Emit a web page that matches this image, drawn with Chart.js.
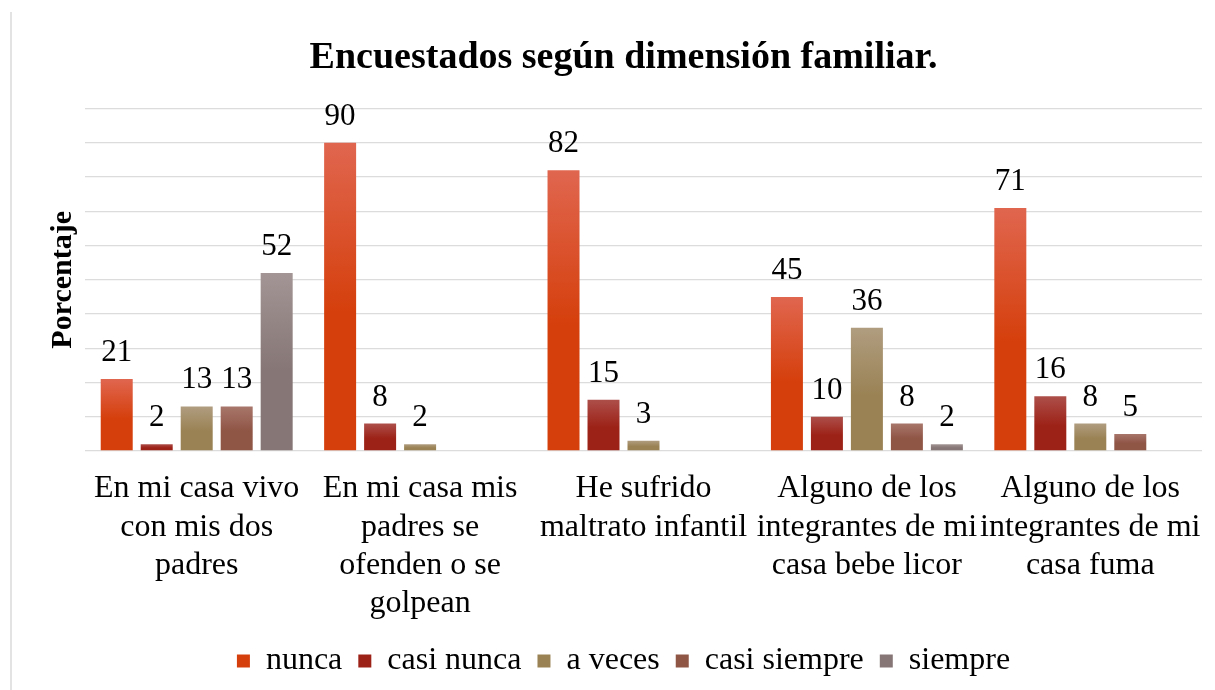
<!DOCTYPE html>
<html lang="es">
<head>
<meta charset="utf-8">
<title>Encuestados según dimensión familiar</title>
<script src="https://cdn.jsdelivr.net/npm/chart.js@4.4.1/dist/chart.umd.min.js"></script>
<style>
    html, body { margin: 0; padding: 0; background: #fff; }
    #contenedor { width: 1215px; height: 690px; position: relative; }
</style>
</head>
<body>
<div id="contenedor">
    <canvas id="graficaFamiliar"></canvas>
</div>
<script>
// Datos (porcentajes)
const categorias = [
    ['En mi casa vivo', 'con mis dos', 'padres'],
    ['En mi casa mis', 'padres se', 'ofenden o se', 'golpean'],
    ['He sufrido', 'maltrato infantil'],
    ['Alguno de los', 'integrantes de mi', 'casa bebe licor'],
    ['Alguno de los', 'integrantes de mi', 'casa fuma']
];
const nunca = [21, 90, 82, 45, 71];
const casiNunca = [2, 8, 15, 10, 16];
const aVeces = [13, 2, 3, 36, 8];
const casiSiempre = [13, null, null, 8, 5];
const siempre = [52, null, null, 2, null];

const fuente = '"Liberation Serif", "Times New Roman", serif';

// Degradado vertical por barra (claro arriba, oscuro abajo)
function degradado(claro, oscuro) {
    return function(context) {
        const chart = context.chart;
        const area = chart.chartArea;
        if (!area || context.type !== 'data' || context.raw == null) return oscuro;
        const y = chart.scales.y;
        const arriba = y.getPixelForValue(context.raw);
        const abajo = y.getPixelForValue(0);
        if (!isFinite(arriba) || abajo - arriba < 1) return oscuro;
        const g = chart.ctx.createLinearGradient(0, arriba, 0, abajo);
        g.addColorStop(0, claro);
        g.addColorStop(0.55, oscuro);
        g.addColorStop(1, oscuro);
        return g;
    };
}

// Etiquetas de valor encima de cada barra
const etiquetasValor = {
    id: 'etiquetasValor',
    afterDatasetsDraw(chart) {
        const ctx = chart.ctx;
        ctx.save();
        ctx.font = '31px ' + fuente;
        ctx.fillStyle = '#000';
        ctx.textAlign = 'center';
        ctx.textBaseline = 'alphabetic';
        chart.data.datasets.forEach(function(ds, i) {
            const meta = chart.getDatasetMeta(i);
            meta.data.forEach(function(barra, j) {
                const v = ds.data[j];
                if (v == null) return;
                ctx.fillText(String(v), barra.x, barra.y - 18);
            });
        });
        ctx.restore();
    }
};

// Línea gris del marco a la izquierda
const marco = {
    id: 'marco',
    beforeDraw(chart) {
        const ctx = chart.ctx;
        ctx.save();
        ctx.strokeStyle = '#e3e3e3';
        ctx.lineWidth = 2;
        ctx.beginPath();
        ctx.moveTo(11, 12);
        ctx.lineTo(11, chart.height);
        ctx.stroke();
        ctx.restore();
    }
};

Chart.defaults.color = '#000';
Chart.defaults.font.family = fuente;

new Chart(document.getElementById('graficaFamiliar').getContext('2d'), {
    type: 'bar',
    data: {
        labels: categorias,
        datasets: [
            { label: 'nunca', data: nunca, backgroundColor: degradado('#e0664f', '#d53f0c') },
            { label: 'casi nunca', data: casiNunca, backgroundColor: degradado('#ad4f4a', '#9c2116') },
            { label: 'a veces', data: aVeces, backgroundColor: degradado('#b09d80', '#9a8254') },
            { label: 'casi siempre', data: casiSiempre, backgroundColor: degradado('#a8766b', '#8f5545') },
            { label: 'siempre', data: siempre, backgroundColor: degradado('#a39595', '#867676') }
        ]
    },
    options: {
        responsive: true,
        maintainAspectRatio: false,
        animation: false,
        categoryPercentage: 0.895,
        barPercentage: 0.8,
        layout: {
            padding: { left: 45, right: 13, top: 0, bottom: 3 }
        },
        plugins: {
            title: {
                display: true,
                text: 'Encuestados según dimensión familiar.',
                font: { size: 38, weight: 'bold', family: fuente },
                padding: { top: 35, bottom: 28 }
            },
            legend: {
                position: 'bottom',
                labels: {
                    boxWidth: 13,
                    boxHeight: 13,
                    padding: 16,
                    font: { size: 32, family: fuente }
                }
            },
            tooltip: { enabled: false }
        },
        scales: {
            x: {
                grid: { display: false, drawTicks: false },
                border: { display: false },
                ticks: {
                    autoSkip: false,
                    maxRotation: 0,
                    minRotation: 0,
                    padding: 19,
                    font: { size: 32, family: fuente, lineHeight: 1.19 }
                },
                afterFit: function(escala) {
                    // quitar el espacio sobrante bajo las etiquetas y a los lados
                    escala.height = 178;
                    escala.paddingLeft = 0;
                    escala.paddingRight = 0;
                }
            },
            y: {
                min: 0,
                max: 100,
                ticks: { display: false, stepSize: 10 },
                grid: { color: '#dcdcdc', lineWidth: 1.3, drawTicks: false },
                border: { display: false },
                title: {
                    display: true,
                    text: 'Porcentaje',
                    font: { size: 30, weight: 'bold', family: fuente },
                    padding: { top: 0, bottom: 4 }
                }
            }
        }
    },
    plugins: [etiquetasValor, marco]
});
</script>
</body>
</html>
